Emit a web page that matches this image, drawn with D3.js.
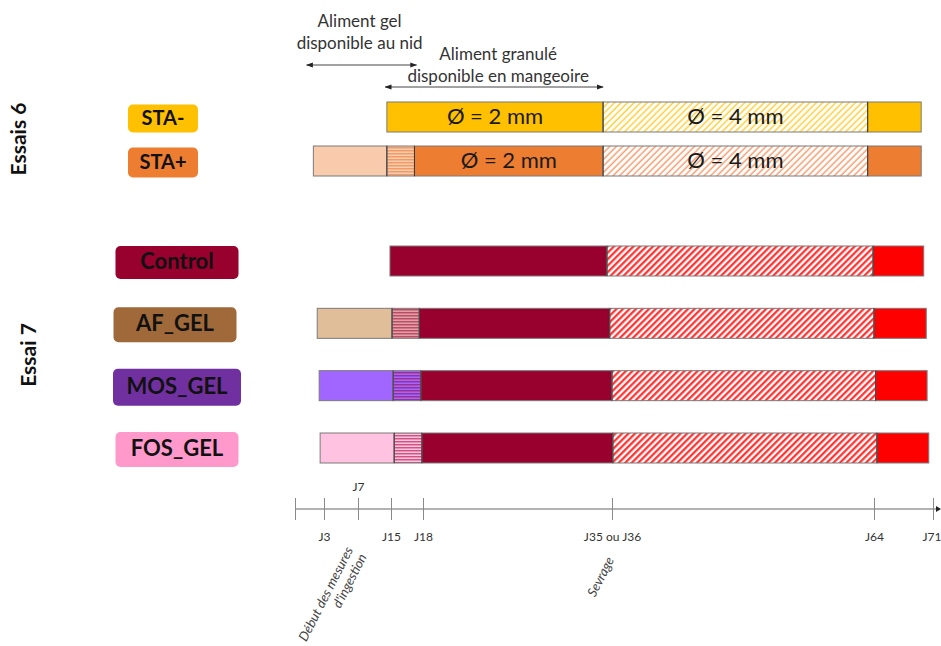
<!DOCTYPE html>
<html><head><meta charset="utf-8">
<script src="https://cdn.jsdelivr.net/npm/d3@7"></script>
<style>
body{margin:0;background:#fff;}
svg{display:block;}
</style></head>
<body>
<svg id="chart" width="941" height="646"></svg>
<script>
// ---------- DATA ----------
const rowNames   = ["STA-", "STA+", "Control", "AF_GEL", "MOS_GEL", "FOS_GEL"];
const rowGroup   = ["Essais 6", "Essais 6", "Essai 7", "Essai 7", "Essai 7", "Essai 7"];
const groupNames = ["Essais 6", "Essai 7"];
// phase start days; null = phase absent
const gelStart    = [null, 1.9, null, 2.3, 2.5, 2.6];   // gel at nest
const mixStart    = [null, 14.0, null, 15.1, 15.2, 15.3]; // gel + pellets
const pelletStart = [14.0, 17.2, 14.75, 17.65, 17.8, 17.9]; // pellets 2 mm
const hatchStart  = [34.2, 34.2, 34.55, 34.8, 35.0, 35.1];  // pellets 4 mm
const finalStart  = [63.3, 63.3, 63.9, 64.0, 64.2, 64.35];
const endDay      = [69.6, 69.6, 69.9, 70.2, 70.3, 70.5];
const pellet2Text = ["Ø = 2 mm", "Ø = 2 mm", "", "", "", ""];
const pellet4Text = ["Ø = 4 mm", "Ø = 4 mm", "", "", "", ""];
// axis
const tickDays   = [0, 3, 7, 15, 18, 35, 64, 71];
const tickLabels = ["", "J3", "J7", "J15", "J18", "J35 ou J36", "J64", "J71"];
const tickAbove  = [false, false, true, false, false, false, false, false];
// annotations
const gelNote     = ["Aliment gel", "disponible au nid"];
const gelNoteDays = [1.2, 17.4];
const pelletNote     = ["Aliment granulé", "disponible en mangeoire"];
const pelletNoteDays = [13.6, 34.2];
const eventDays   = [7, 35];
const eventLines  = [["Début des mesures", "d'ingestion"], ["Sevrage"]];

// ---------- STYLES ----------
const labelFill = {"STA-":"#FFC000","STA+":"#ED7D31","Control":"#98002E","AF_GEL":"#A0693A","MOS_GEL":"#7030A0","FOS_GEL":"#FF99CC"};
const gelFill   = {"STA+":"#F8CBAD","AF_GEL":"#E0BE99","MOS_GEL":"#A066FF","FOS_GEL":"#FFC3E1"};
const mixBg     = {"STA+":"#F8CBAD","AF_GEL":"#E0A0A6","MOS_GEL":"#A066FF","FOS_GEL":"#FFC3E1"};
const mixLine   = {"STA+":"#EE8A4E","AF_GEL":"#B0304F","MOS_GEL":"#9A1E70","FOS_GEL":"#C0305F"};
const mainFill  = {"STA-":"#FFC000","STA+":"#ED7D31","Control":"#98002E","AF_GEL":"#98002E","MOS_GEL":"#98002E","FOS_GEL":"#98002E"};
const hatchCol  = {"STA-":"#FFCF3A","STA+":"#F29E70","Control":"#FF2A2A","AF_GEL":"#FF2A2A","MOS_GEL":"#FF2A2A","FOS_GEL":"#FF2A2A"};
const hatchW    = {"STA-":1.5,"STA+":1.5,"Control":2.2,"AF_GEL":2.2,"MOS_GEL":2.2,"FOS_GEL":2.2};
const finalFill = {"STA-":"#FFC000","STA+":"#ED7D31","Control":"#FF0000","AF_GEL":"#FF0000","MOS_GEL":"#FF0000","FOS_GEL":"#FF0000"};

const svg = d3.select("#chart");
const defs = svg.append("defs");

// ---------- SCALES ----------
const x = d3.scaleLinear().domain(tickDays).range([295, 324, 358, 391, 423, 612, 874, 933]);
const y = d3.scaleLinear().domain([0, 1, 2, 5]).range([117, 161, 261, 448]);
const barH = 30;

// patterns
rowNames.forEach((n, i) => {
  const id = "h" + i;
  const p = defs.append("pattern").attr("id", id).attr("patternUnits", "userSpaceOnUse")
    .attr("width", 4.6).attr("height", 4.6).attr("patternTransform", "rotate(45)");
  p.append("rect").attr("width", 4.6).attr("height", 4.6).attr("fill", "#fff");
  p.append("line").attr("x1", 1.2).attr("x2", 1.2).attr("y1", 0).attr("y2", 4.6)
    .attr("stroke", hatchCol[n]).attr("stroke-width", hatchW[n]);
  if (mixBg[n]) {
    const q = defs.append("pattern").attr("id", "m" + i).attr("patternUnits", "userSpaceOnUse")
      .attr("width", 6).attr("height", 3);
    q.append("rect").attr("width", 6).attr("height", 3).attr("fill", mixBg[n]);
    q.append("line").attr("x1", 0).attr("x2", 6).attr("y1", 0.8).attr("y2", 0.8)
      .attr("stroke", mixLine[n]).attr("stroke-width", 1.1);
  }
});
defs.append("marker").attr("id", "arr").attr("viewBox", "0 0 10 10").attr("refX", 9).attr("refY", 5)
  .attr("markerWidth", 7).attr("markerHeight", 7).attr("orient", "auto-start-reverse")
  .append("path").attr("d", "M0,1.5 L10,5 L0,8.5 z").attr("fill", "#222");

// ---------- BARS ----------
const bars = svg.append("g");
rowNames.forEach((n, i) => {
  const yc = y(i), y0 = yc - barH / 2;
  const segs = [];
  if (gelStart[i] != null) segs.push({a: gelStart[i], b: mixStart[i], fill: gelFill[n]});
  if (mixStart[i] != null) segs.push({a: mixStart[i], b: pelletStart[i], fill: "url(#m" + i + ")"});
  segs.push({a: pelletStart[i], b: hatchStart[i], fill: mainFill[n], text: pellet2Text[i]});
  segs.push({a: hatchStart[i], b: finalStart[i], fill: "url(#h" + i + ")", text: pellet4Text[i]});
  segs.push({a: finalStart[i], b: endDay[i], fill: finalFill[n]});
  const g = bars.append("g");
  g.selectAll("rect").data(segs).join("rect")
    .attr("x", d => x(d.a)).attr("y", y0)
    .attr("width", d => x(d.b) - x(d.a)).attr("height", barH)
    .attr("fill", d => d.fill).attr("stroke", "#7a7a7a").attr("stroke-width", 1);
  g.selectAll("line.sep").data(segs.slice(1)).join("line").attr("class", "sep")
    .attr("x1", d => x(d.a)).attr("x2", d => x(d.a)).attr("y1", y0).attr("y2", y0 + barH)
    .attr("stroke", "#3a3a3a").attr("stroke-width", 1);
  g.selectAll("text").data(segs.filter(d => d.text)).join("text")
    .attr("x", d => (x(d.a) + x(d.b)) / 2).attr("y", yc + 1)
    .attr("text-anchor", "middle").attr("dominant-baseline", "middle")
    .attr("font-family", "Lato, 'Open Sans', sans-serif").attr("font-size", 22)
    .attr("fill", "#1a1a1a").text(d => d.text);
});

// ---------- ROW LABELS ----------
const labW = {"STA-":70,"STA+":70,"Control":123,"AF_GEL":123,"MOS_GEL":128,"FOS_GEL":123};
const labH = {"STA-":28,"STA+":30,"Control":33,"AF_GEL":35,"MOS_GEL":37,"FOS_GEL":35};
const labCx = {"STA-":163,"STA+":163,"Control":177,"AF_GEL":175,"MOS_GEL":177,"FOS_GEL":177};
const labels = svg.append("g");
rowNames.forEach((n, i) => {
  const cy = y(i) + 1.5;
  labels.append("rect").attr("x", labCx[n] - labW[n] / 2).attr("y", cy - labH[n] / 2)
    .attr("width", labW[n]).attr("height", labH[n]).attr("rx", 5).attr("fill", labelFill[n]);
  labels.append("text").attr("x", labCx[n]).attr("y", cy + 1)
    .attr("text-anchor", "middle").attr("dominant-baseline", "middle")
    .attr("font-family", "Lato, sans-serif").attr("font-weight", "bold")
    .attr("font-size", n.length > 5 ? 22 : 20).attr("fill", "#111").text(n);
});

// group labels
const groupCenter = {"Essais 6": [21, 139], "Essai 7": [31, 355]};
groupNames.forEach(gname => {
  const [gx, gy] = groupCenter[gname];
  svg.append("text").attr("transform", `translate(${gx},${gy}) rotate(-90)`)
    .attr("text-anchor", "middle").attr("dominant-baseline", "middle")
    .attr("font-family", "Lato, sans-serif").attr("font-weight", "bold").attr("font-size", 21)
    .attr("fill", "#111").text(gname);
});

// ---------- TOP ANNOTATIONS ----------
function note(lines, days, yText, yArrow, dx) {
  const cx = (x(days[0]) + x(days[1])) / 2 + dx;
  lines.forEach((t, k) => {
    svg.append("text").attr("x", cx).attr("y", yText + k * 22)
      .attr("text-anchor", "middle").attr("dominant-baseline", "middle")
      .attr("font-family", "Lato, sans-serif").attr("font-size", 17).attr("fill", "#333").text(t);
  });
  svg.append("line").attr("x1", x(days[0])).attr("x2", x(days[1])).attr("y1", yArrow).attr("y2", yArrow)
    .attr("stroke", "#444").attr("stroke-width", 1)
    .attr("marker-start", "url(#arr)").attr("marker-end", "url(#arr)");
}
note(gelNote, gelNoteDays, 23, 65, -2);
note(pelletNote, pelletNoteDays, 56, 87, 4);

// ---------- TIME AXIS ----------
const axisY = 509;
const axisG = svg.append("g").attr("transform", `translate(0,${axisY})`);
axisG.append("line").attr("x1", x(0)).attr("x2", 940).attr("y1", 0).attr("y2", 0)
  .attr("stroke", "#9a9a9a").attr("stroke-width", 1.5);
axisG.append("path").attr("d", "M936,-3 L941,0 L936,3 z").attr("fill", "#222");
const axis = d3.axisBottom(x).tickValues(tickDays).tickSize(0).tickFormat((d, i) => tickLabels[i]);
const ag = axisG.append("g").call(axis);
ag.select(".domain").remove();
ag.selectAll(".tick line").attr("y1", -11).attr("y2", 11).attr("stroke", "#8a8a8a").attr("stroke-width", 1);
ag.selectAll(".tick text")
  .attr("y", (d, i) => tickAbove[i] ? -22 : 28)
  .attr("dy", "0.32em")
  .attr("text-anchor", (d, i) => i === tickDays.length - 1 ? "end" : "middle")
  .attr("x", (d, i) => i === tickDays.length - 1 ? 8 : 0)
  .attr("font-family", "Lato, sans-serif").attr("font-size", 12).attr("fill", "#333");

// event labels (rotated italic)
eventDays.forEach((d, k) => {
  const ex = x(d) - 14 + (k === 1 ? 7 : 0), ey = axisY + 36 + (k === 1 ? 10 : 0);
  const t = svg.append("text").attr("transform", `translate(${ex},${ey}) rotate(-63)`)
    .attr("text-anchor", "end").attr("font-family", "Lato, sans-serif")
    .attr("font-style", "italic").attr("font-size", 13.2).attr("fill", "#444");
  eventLines[k].forEach((line, j) => {
    t.append("tspan").attr("x", 0).attr("dy", j === 0 ? "0.8em" : "1.15em").text(line);
  });
});
</script>
</body></html>
